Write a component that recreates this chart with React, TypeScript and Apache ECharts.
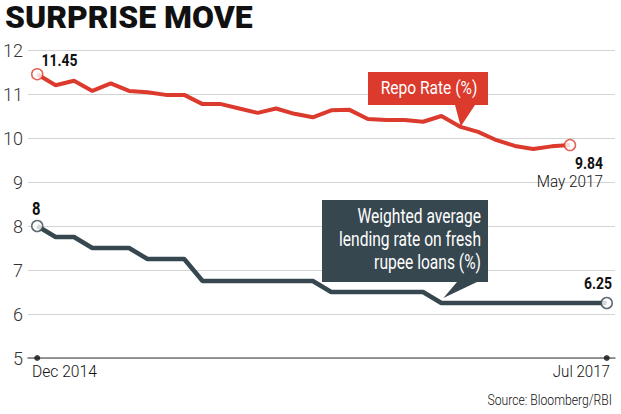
import React, { useEffect, useRef } from "react";
import * as echarts from "echarts";

const months = [
  "Dec 2014", "Jan 2015", "Feb 2015", "Mar 2015", "Apr 2015", "May 2015", "Jun 2015", "Jul 2015",
  "Aug 2015", "Sep 2015", "Oct 2015", "Nov 2015", "Dec 2015", "Jan 2016", "Feb 2016", "Mar 2016",
  "Apr 2016", "May 2016", "Jun 2016", "Jul 2016", "Aug 2016", "Sep 2016", "Oct 2016", "Nov 2016",
  "Dec 2016", "Jan 2017", "Feb 2017", "Mar 2017", "Apr 2017", "May 2017", "Jun 2017", "Jul 2017",
];

// red line (labelled "Repo Rate (%)" in the graphic), Dec 2014 - May 2017
const redValues = [
  11.45, 11.2, 11.3, 11.07, 11.24, 11.07, 11.04, 10.98, 10.98, 10.77, 10.77, 10.67, 10.57, 10.67,
  10.55, 10.47, 10.63, 10.64, 10.43, 10.41, 10.41, 10.37, 10.5, 10.26, 10.14, 9.95, 9.82, 9.75,
  9.81, 9.84,
];

// dark line (labelled "Weighted average lending rate..."), Dec 2014 - Jul 2017
const darkValues = [
  8, 7.75, 7.75, 7.5, 7.5, 7.5, 7.25, 7.25, 7.25, 6.75, 6.75, 6.75, 6.75, 6.75, 6.75, 6.75,
  6.5, 6.5, 6.5, 6.5, 6.5, 6.5, 6.25, 6.25, 6.25, 6.25, 6.25, 6.25, 6.25, 6.25, 6.25, 6.25,
];

const yTicks = [5, 6, 7, 8, 9, 10, 11, 12];
const xTickLabels = ["Dec 2014", "Jul 2017"];
const redName = "Repo Rate (%)";
const darkName = "Weighted average\nlending rate on fresh\nrupee loans (%)";
const titleText = "SURPRISE MOVE";
const sourceText = "Source: Bloomberg/RBI";

const RED = "#dc3a2d";
const DARK = "#37474f";
const FONT = "Roboto";

export default function App() {
  const ref = useRef<HTMLDivElement>(null);

  useEffect(() => {
    document.body.style.margin = "0";
    const chart = echarts.init(ref.current!, null, { renderer: "svg" });
    const redData = redValues.map((v, i) => [i, v]);
    const darkData = darkValues.map((v, i) => [i, v]);
    const lastRed = redData.length - 1;
    const lastDark = darkData.length - 1;

    chart.setOption({
      animation: false,
      grid: { left: 25, right: 6, top: 50, bottom: 56, containLabel: false },
      xAxis: {
        type: "value",
        min: -0.504,
        max: 31.45,
        axisLabel: { show: false },
        axisTick: { show: false },
        splitLine: { show: false },
        axisLine: { show: true, lineStyle: { color: "#777", width: 1.5 } },
      },
      yAxis: {
        type: "value",
        min: yTicks[0],
        max: yTicks[yTicks.length - 1],
        interval: 1,
        axisLine: { show: false },
        axisTick: { show: false },
        axisLabel: { fontSize: 18, color: "#333", fontFamily: FONT, fontWeight: 300, margin: 5 },
        splitLine: { lineStyle: { color: "#d4d4d4", width: 1 } },
      },
      series: [
        {
          name: darkName,
          type: "line",
          data: darkData,
          showSymbol: false,
          lineStyle: { color: DARK, width: 4.5 },
          z: 3,
        },
        {
          name: redName,
          type: "line",
          data: redData,
          showSymbol: false,
          lineStyle: { color: RED, width: 4 },
          z: 4,
        },
        {
          type: "scatter",
          data: [darkData[0], darkData[lastDark]],
          symbolSize: 11,
          itemStyle: { color: "#fff", borderColor: DARK, borderWidth: 1.5 },
          z: 5,
        },
        {
          type: "scatter",
          data: [redData[0], redData[lastRed]],
          symbolSize: 11,
          itemStyle: { color: "#fff", borderColor: RED, borderWidth: 1.5 },
          z: 6,
        },
        {
          type: "scatter",
          data: [[0, yTicks[0]], [months.length - 1, yTicks[0]]],
          symbolSize: 6,
          clip: false,
          itemStyle: { color: "#111" },
          z: 7,
        },
      ],
    });

    const redTip = chart.convertToPixel({ gridIndex: 0 }, [23, redValues[23]]);
    const darkTip = chart.convertToPixel({ gridIndex: 0 }, [22, darkValues[22]]);

    const txt = (
      text: string,
      x: number,
      y: number,
      o: { size?: number; weight?: any; align?: string; color?: string; sx?: number; lh?: number } = {}
    ) => ({
      type: "text",
      x,
      y,
      scaleX: o.sx ?? 0.82,
      z: 100,
      style: {
        text,
        fill: o.color ?? "#111",
        font: `${o.weight ?? "normal"} ${o.size ?? 17}px ${FONT}`,
        fontFamily: FONT,
        fontSize: o.size ?? 17,
        fontWeight: o.weight ?? "normal",
        textAlign: o.align ?? "left",
        textVerticalAlign: "middle",
        lineHeight: o.lh,
      },
    });

    chart.setOption({
      graphic: [
        txt(titleText, 5, 18, { size: 31, weight: 900, sx: 1.03 }),
        {
          type: "polygon",
          z: 90,
          shape: {
            points: [
              [368, 72], [488, 72], [488, 105], [475, 105], [redTip[0] + 1, redTip[1]], [455, 105], [368, 105],
            ],
          },
          style: { fill: RED },
        },
        txt(redName, 429, 87.5, { size: 19, align: "center", color: "#fff" }),
        {
          type: "polygon",
          z: 90,
          shape: {
            points: [
              [322, 200], [488, 200], [488, 282], [477, 282], [darkTip[0] + 2, darkTip[1] - 5], [457, 282], [322, 282],
            ],
          },
          style: { fill: DARK },
        },
        txt(darkName, 481, 239, { size: 20, align: "right", color: "#fff", lh: 23, sx: 0.78 }),
        txt(String(redValues[0]), 41.5, 61, { weight: "bold" }),
        txt(redValues[lastRed].toFixed(2), 603, 163.5, { weight: "bold", align: "right" }),
        txt(months[lastRed], 603, 181, { align: "right", weight: 300, sx: 0.9 }),
        txt(String(darkValues[0]), 32, 208.5, { weight: "bold", size: 18 }),
        txt(darkValues[lastDark].toFixed(2), 612, 284, { weight: "bold", align: "right" }),
        txt(xTickLabels[0], 32, 371, { weight: 300, sx: 0.92 }),
        txt(xTickLabels[1], 610, 371.5, { align: "right", weight: 300, sx: 0.89 }),
        txt(sourceText, 612, 400.5, { size: 14.5, align: "right", weight: 300, sx: 0.84 }),
      ],
    });

    return () => chart.dispose();
  }, []);

  return <div ref={ref} style={{ width: 621, height: 414 }} />;
}
